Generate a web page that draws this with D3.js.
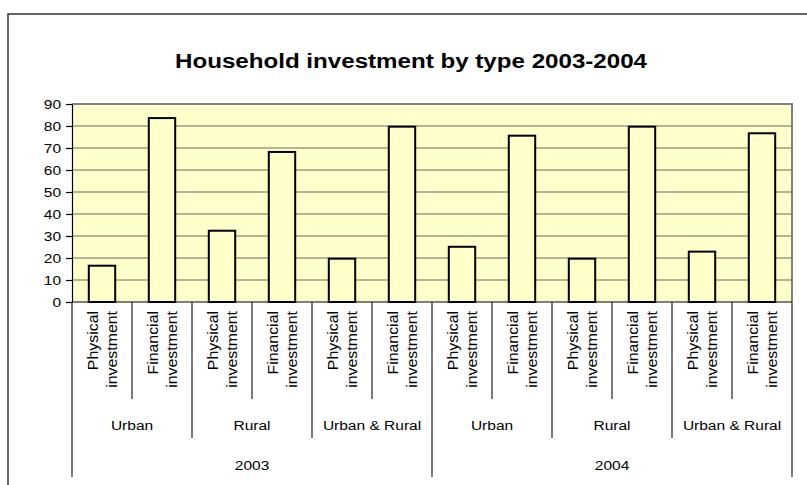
<!DOCTYPE html>
<html>
<head>
<meta charset="utf-8">
<script src="https://cdn.jsdelivr.net/npm/d3@7/dist/d3.min.js"></script>
<style>
  html, body { margin: 0; padding: 0; background: #ffffff; }
  svg { display: block; }
  text { font-family: "Liberation Sans", Arial, sans-serif; fill: #000; }
</style>
</head>
<body>
<svg id="chart" width="807" height="485"></svg>
<script>
// Household investment, per year and area, split by investment type
const years = ["2003", "2004"];
const areas = ["Urban", "Rural", "Urban & Rural"];
const types = ["Physical investment", "Financial investment"];
const physicalValues = [16.5, 32.4, 19.7, 25.1, 19.7, 22.9];
const financialValues = [83.6, 68.2, 79.7, 75.6, 79.7, 76.7];
const yTicks = [0, 10, 20, 30, 40, 50, 60, 70, 80, 90];
const titleText = "Household investment by type 2003-2004";

// flatten into one row per bar: year > area > type
const rows = [];
years.forEach((yr, yi) => {
  areas.forEach((ar, ai) => {
    const g = yi * areas.length + ai;
    rows.push({ year: yr, area: ar, type: types[0], value: physicalValues[g] });
    rows.push({ year: yr, area: ar, type: types[1], value: financialValues[g] });
  });
});
rows.forEach((d, i) => d.key = i);

const svg = d3.select("#chart");
const plot = { left: 72, right: 792, top: 104, bottom: 302 };
const SX = 1.15; // horizontal text stretch

// outer chart frame
svg.append("rect")
  .attr("x", 8).attr("y", 14).attr("width", 820).attr("height", 500)
  .attr("fill", "none").attr("stroke", "#333").attr("stroke-width", 1.5);

// title
svg.append("text")
  .attr("transform", `translate(411,68) scale(${SX},1)`)
  .attr("text-anchor", "middle")
  .style("font-size", "21px").style("font-weight", "bold")
  .text(titleText);

const y = d3.scaleLinear().domain([0, 90]).range([plot.bottom, plot.top]);
const slot = d3.scaleBand().domain(rows.map(d => d.key)).range([plot.left, plot.right]).padding(0);
const xBar = d3.scaleBand().domain(rows.map(d => d.key)).range([plot.left, plot.right])
  .paddingInner(0.56).paddingOuter(0.28);

// plot background
svg.append("rect")
  .attr("x", plot.left).attr("y", plot.top)
  .attr("width", plot.right - plot.left).attr("height", plot.bottom - plot.top)
  .attr("fill", "#FFFFCC");

// gridlines
svg.append("g").selectAll("line")
  .data(yTicks.filter(t => t > 0 && t < 90))
  .join("line")
  .attr("x1", plot.left).attr("x2", plot.right)
  .attr("y1", d => y(d)).attr("y2", d => y(d))
  .attr("stroke", "#9c9c84").attr("stroke-width", 1.5);

// plot border (top and right)
svg.append("path")
  .attr("d", `M${plot.left},${plot.top}H${plot.right}V${plot.bottom}`)
  .attr("fill", "none").attr("stroke", "#808080").attr("stroke-width", 2);

// bars
svg.append("g").selectAll("rect")
  .data(rows)
  .join("rect")
  .attr("x", d => xBar(d.key))
  .attr("width", xBar.bandwidth())
  .attr("y", d => y(d.value))
  .attr("height", d => y(0) - y(d.value))
  .attr("fill", "#FFFFCC")
  .attr("stroke", "#000").attr("stroke-width", 2);

// value axis
const yAxis = svg.append("g")
  .attr("transform", `translate(${plot.left},0)`)
  .call(d3.axisLeft(y).tickValues(yTicks).tickSize(6).tickPadding(3.5).tickSizeOuter(0));
yAxis.select(".domain").attr("stroke", "#000").attr("stroke-width", 1.2);
yAxis.selectAll(".tick line").attr("stroke", "#000").attr("stroke-width", 1.2);
yAxis.selectAll(".tick text")
  .attr("transform", `scale(${SX},1)`)
  .style("font-size", "13.5px")
  .style("font-family", "'Liberation Sans', Arial, sans-serif")
  .attr("fill", "#000");

// multi-level category axis
const axisG = svg.append("g");
axisG.append("line")
  .attr("x1", plot.left).attr("x2", plot.right)
  .attr("y1", plot.bottom).attr("y2", plot.bottom)
  .attr("stroke", "#000").attr("stroke-width", 1.2);

const perYear = areas.length * types.length;
const boundaries = d3.range(rows.length + 1).map(i => {
  const x = i < rows.length ? slot(i) : slot(rows.length - 1) + slot.bandwidth();
  let depth = 399;
  if (i % perYear === 0) depth = 477;
  else if (i % types.length === 0) depth = 438;
  return { x, depth };
});
axisG.selectAll("line.div")
  .data(boundaries)
  .join("line")
  .attr("class", "div")
  .attr("x1", d => d.x).attr("x2", d => d.x)
  .attr("y1", plot.bottom).attr("y2", d => d.depth)
  .attr("stroke", "#222").attr("stroke-width", 1.2);

// type labels, rotated, two lines each
const typeLabels = axisG.selectAll("text.type")
  .data(rows)
  .join("text")
  .attr("class", "type")
  .attr("transform", d => `translate(${slot(d.key) + slot.bandwidth() / 2},311) rotate(-90) scale(1.06,1)`)
  .attr("text-anchor", "end")
  .style("font-size", "15px");
typeLabels.each(function (d) {
  const parts = d.type.split(" ");
  const t = d3.select(this);
  t.append("tspan").attr("x", 0).attr("y", -4).text(parts[0]);
  t.append("tspan").attr("x", 0).attr("y", 15.5).text(parts[1]);
});

// area labels
const groups = [];
years.forEach((yr, yi) => areas.forEach((ar, ai) => {
  const first = (yi * areas.length + ai) * types.length;
  groups.push({ label: ar, x: slot(first) + slot.bandwidth() * types.length / 2 });
}));
axisG.selectAll("text.area")
  .data(groups)
  .join("text")
  .attr("class", "area")
  .attr("transform", d => `translate(${d.x},430) scale(${SX},1)`)
  .attr("text-anchor", "middle")
  .style("font-size", "13.5px")
  .text(d => d.label);

// year labels
axisG.selectAll("text.year")
  .data(years)
  .join("text")
  .attr("class", "year")
  .attr("transform", (d, i) => `translate(${slot(i * perYear) + slot.bandwidth() * perYear / 2},470) scale(${SX},1)`)
  .attr("text-anchor", "middle")
  .style("font-size", "13.5px")
  .text(d => d);
</script>
</body>
</html>
